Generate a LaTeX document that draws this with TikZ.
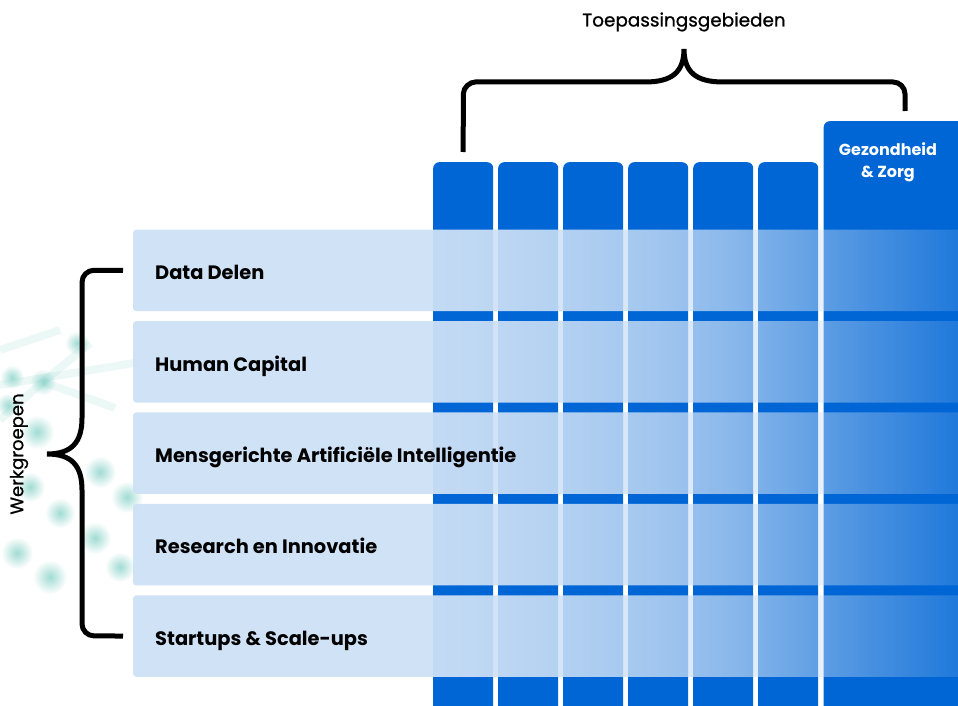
\documentclass[tikz,border=0pt]{standalone}
\usepackage{fontspec}
\setmainfont[Ligatures=NoCommon]{Poppins}
\newfontfamily\mediumfont[Ligatures=NoCommon, FakeBold=0.9]{Poppins}
\usepackage{tikz}
\usetikzlibrary{positioning,fadings}
\usepackage{xcolor}
\definecolor{areablue}{RGB}{0,102,214}
\definecolor{grouplight}{RGB}{206,225,246}
\definecolor{dotteal}{RGB}{110,200,188}
\pgfdeclarehorizontalshading{groupshade}{100bp}{%
  color(0bp)=(transparent!5); color(42.6bp)=(transparent!5);
  color(48.4bp)=(transparent!10); color(52.2bp)=(transparent!16);
  color(56bp)=(transparent!22); color(59.8bp)=(transparent!32);
  color(63.7bp)=(transparent!47); color(66.6bp)=(transparent!59);
  color(73.6bp)=(transparent!85); color(75bp)=(transparent!87);
  color(100bp)=(transparent!87)}
\pgfdeclarefading{groupfade}{\pgfuseshading{groupshade}}
\tikzfading[name=dot fade, inner color=transparent!35, outer color=transparent!100]
\tikzset{%
    brace line/.style={line width=5pt, black},
    net dot/.style={fill=dotteal, path fading=dot fade},
    net line/.style={dotteal, line width=8pt, opacity=0.13}
}

\begin{document}
\begin{tikzpicture}[x=1pt,y=-1pt,
  area node/.style={fill=areablue, rounded corners=6pt, minimum width=60pt,
    minimum height=700pt, anchor=north west, inner sep=0pt},
  group node/.style={fill=grouplight, rounded corners=3pt, minimum width=850pt,
    minimum height=81.5pt, anchor=north west, inner sep=0pt, path fading=groupfade},
  group label/.style={font=\bfseries\fontsize{19.4pt}{22pt}\selectfont, inner sep=0pt,
    text height=13.5pt, text depth=0pt, yshift=-2.5pt},
  area title/.style={font=\bfseries\fontsize{16pt}{22pt}\selectfont, text=white,
    align=center, inner sep=0pt, anchor=north}]
  \useasboundingbox (0,0) rectangle (958,706);

  \draw[net line] (0,350) -- (60,330);
  \draw[net line] (0,385) -- (140,362);
  \draw[net line] (0,420) -- (43,382) -- (90,343);
  \draw[net line] (43,382) -- (115,408);
  \fill[net dot] (77,343) circle (12);
  \fill[net dot] (12,377) circle (12);
  \fill[net dot] (43,382) circle (13);
  \fill[net dot] (8,405) circle (12);
  \fill[net dot] (37,432) circle (17);
  \fill[net dot] (100,472) circle (16);
  \fill[net dot] (30,487) circle (15);
  \fill[net dot] (127,497) circle (16);
  \fill[net dot] (60,513) circle (15);
  \fill[net dot] (95,538) circle (16);
  \fill[net dot] (17,553) circle (16);
  \fill[net dot] (120,567) circle (15);
  \fill[net dot] (50,577) circle (17);

  \node[area node] (a1) at (433,162) {};
  \node[area node] (a2) at (498,162) {};
  \node[area node] (a3) at (563,162) {};
  \node[area node] (a4) at (628,162) {};
  \node[area node] (a5) at (693,162) {};
  \node[area node] (a6) at (758,162) {};
  \node[area node, minimum width=163pt] (a7) at (823.5,121) {};
  \node[area title] (t7) at (888,142) {Gezondheid\\\& Zorg};

  \node[font=\mediumfont\fontsize{18.4pt}{22pt}\selectfont, inner sep=0pt, text height=13pt,
    text depth=0pt] (areas) at (684,20) {Toepassingsgebieden};
  \draw[brace line] ([yshift=10pt]a1.north) -- (463.3,94)
    .. controls (463.3,87.4) and (469.9,82) .. (475.3,82) -- (645,82)
    .. controls (672,82) and (684,72) .. (684,49)
    .. controls (684,72) and (696,82) .. (723,82) -- (893,82)
    .. controls (899.6,82) and (905,87.4) .. (905,94) -- ([yshift=10pt]a7.north);

  \node[group node] (g1) at (133,229.5) {};
  \node[group node] (g2) at (133,320.9) {};
  \node[group node] (g3) at (133,412.3) {};
  \node[group node] (g4) at (133,503.7) {};
  \node[group node] (g5) at (133,595.1) {};
  \node[group label, right=22pt of g1.west] (l1) {Data Delen};
  \node[group label, right=22pt of g2.west] (l2) {Human Capital};
  \node[group label, right=22pt of g3.west] (l3) {Mensgerichte Artificiële Intelligentie};
  \node[group label, right=22pt of g4.west] (l4) {Research en Innovatie};
  \node[group label, right=22pt of g5.west] (l5) {Startups \& Scale-ups};

  \node[font=\mediumfont\fontsize{18pt}{20pt}\selectfont, inner sep=0pt, rotate=90] (groups) at (19,454) {Werkgroepen};
  \draw[brace line] ([xshift=-10pt]g1.west) -- (94,270.25)
    .. controls (87.4,270.25) and (82,275.6) .. (82,282.25) -- (82,418)
    .. controls (82,442) and (72,454) .. (47,454)
    .. controls (72,454) and (82,466) .. (82,490) -- (82,623.85)
    .. controls (82,630.5) and (87.4,635.85) .. (94,635.85) -- ([xshift=-10pt]g5.west);
\end{tikzpicture}
\end{document}
